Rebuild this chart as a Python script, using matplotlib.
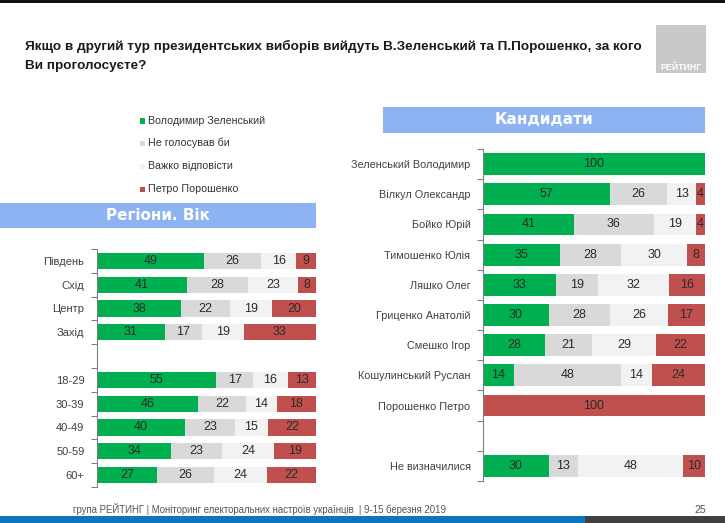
import matplotlib
matplotlib.use("Agg")
import matplotlib.pyplot as plt
from matplotlib.patches import Rectangle

plt.rcParams['font.family'] = ['Liberation Sans', 'DejaVu Sans']

# ---------------- data ----------------
series_names = ["Володимир Зеленський", "Не голосував би", "Важко відповісти", "Петро Порошенко"]
colors = ["#00b050", "#d9d9d9", "#f2f2f2", "#c0504d"]

left_cats = ["Південь", "Схід", "Центр", "Захід", "", "18-29", "30-39", "40-49", "50-59", "60+"]
left_zel = [49, 41, 38, 31, None, 55, 46, 40, 34, 27]
left_nv = [26, 28, 22, 17, None, 17, 22, 23, 23, 26]
left_hard = [16, 23, 19, 19, None, 16, 14, 15, 24, 24]
left_por = [9, 8, 20, 33, None, 13, 18, 22, 19, 22]

right_cats = ["Зеленський Володимир", "Вілкул Олександр", "Бойко Юрій", "Тимошенко Юлія",
              "Ляшко Олег", "Гриценко Анатолій", "Смешко Ігор", "Кошулинський Руслан",
              "Порошенко Петро", "", "Не визначилися"]
right_zel = [100, 57, 41, 35, 33, 30, 28, 14, 0, None, 30]
right_nv = [0, 26, 36, 28, 19, 28, 21, 48, 0, None, 13]
right_hard = [0, 13, 19, 30, 32, 26, 29, 14, 0, None, 48]
right_por = [0, 4, 4, 8, 16, 17, 22, 24, 100, None, 10]

title = "Якщо в другий тур президентських виборів вийдуть В.Зеленський та П.Порошенко, за кого\nВи проголосуєте?"
footer = "група РЕЙТИНГ | Моніторинг електоральних настроїв українців  | 9-15 березня 2019"

W, H = 725, 523
fig = plt.figure(figsize=(W / 100, H / 100), dpi=100)
fig.patch.set_facecolor("white")


def fx(px):
    return px / W


def fy(py):
    return 1 - py / H


def draw_chart(ax, cats, data, height, fs, lfs):
    n = len(cats)
    ys = list(range(n))
    for i in range(n):
        if data[0][i] is None:
            continue
        left = 0
        total = sum(d[i] for d in data)
        for k, d in enumerate(data):
            v = d[i]
            if v <= 0:
                continue
            w = v * 100.0 / total
            ax.barh(i, w, left=left, height=height, color=colors[k], edgecolor="none")
            ax.text(left + w / 2, i, str(v), ha="center", va="center", fontsize=fs,
                    color="#2a2a2a")
            left += w
    ax.set_xlim(0, 100)
    ax.set_ylim(n - 0.5, -0.5)
    ax.set_yticks(ys)
    ax.set_yticklabels(cats, fontsize=lfs, color="#404040")
    ax.set_yticks([y - 0.5 for y in range(n + 1)], minor=True)
    ax.tick_params(axis="y", which="major", length=0, pad=9)
    ax.tick_params(axis="y", which="minor", length=4, color="#808080", width=0.8)
    ax.set_xticks([])
    for s in ["top", "right", "bottom"]:
        ax.spines[s].set_visible(False)
    ax.spines["left"].set_color("#808080")
    ax.spines["left"].set_linewidth(0.8)
    ax.set_facecolor("none")


# left chart
axL = fig.add_axes([fx(97), fy(487), fx(316 - 97), (487 - 249) / H])
draw_chart(axL, left_cats, [left_zel, left_nv, left_hard, left_por], 0.68, 9, 8)

# right chart
axR = fig.add_axes([fx(483), fy(481), fx(705 - 483), (481 - 149) / H])
draw_chart(axR, right_cats, [right_zel, right_nv, right_hard, right_por], 0.72, 9, 7.8)

# title
fig.text(fx(25), fy(56), title, ha="left", va="center", fontsize=9.7, fontweight="bold",
         color="#1a1a1a", linespacing=1.7)

# logo box
fig.patches.append(Rectangle((fx(656), fy(73)), fx(50), (73 - 25) / H, transform=fig.transFigure,
                             facecolor="#c9c9c9", edgecolor="none"))
fig.text(fx(681), fy(68), "РЕЙТИНГ", ha="center", va="center", fontsize=6.3,
         fontweight="bold", color="white")

# banners
fig.patches.append(Rectangle((fx(383), fy(133)), fx(705 - 383), (133 - 107) / H,
                             transform=fig.transFigure, facecolor="#8db3f2", edgecolor="none"))
fig.text(fx(544), fy(120), "Кандидати", ha="center", va="center", fontsize=11,
         fontweight="heavy", color="white", family=["DejaVu Sans"])
fig.patches.append(Rectangle((0, fy(228)), fx(316), (228 - 203) / H,
                             transform=fig.transFigure, facecolor="#8db3f2", edgecolor="none"))
fig.text(fx(158), fy(215.5), "Регіони. Вік", ha="center", va="center", fontsize=11,
         fontweight="heavy", color="white", family=["DejaVu Sans"])

# legend
for k, name in enumerate(series_names):
    yy = [121, 143, 166, 189][k]
    fig.patches.append(Rectangle((fx(140), fy(yy + 3)), fx(5), 5.5 / H, transform=fig.transFigure,
                                 facecolor=colors[k], edgecolor="none"))
    fig.text(fx(148), fy(yy), name, ha="left", va="center", fontsize=7.7, color="#333333")

# footer
fig.text(fx(73), fy(509), footer, ha="left", va="center", fontsize=6.9, color="#555555")
fig.text(fx(700), fy(510), "25", ha="center", va="center", fontsize=7.5, color="#555555")
fig.patches.append(Rectangle((0, 0), fx(585), 7 / H, transform=fig.transFigure,
                             facecolor="#0f75bc", edgecolor="none"))
fig.patches.append(Rectangle((fx(585), 0), fx(140), 7 / H, transform=fig.transFigure,
                             facecolor="#404040", edgecolor="none"))
fig.patches.append(Rectangle((0, fy(3)), 1, 3 / H, transform=fig.transFigure,
                             facecolor="#111111", edgecolor="none"))

fig.savefig("out.png", dpi=100, facecolor="white")
